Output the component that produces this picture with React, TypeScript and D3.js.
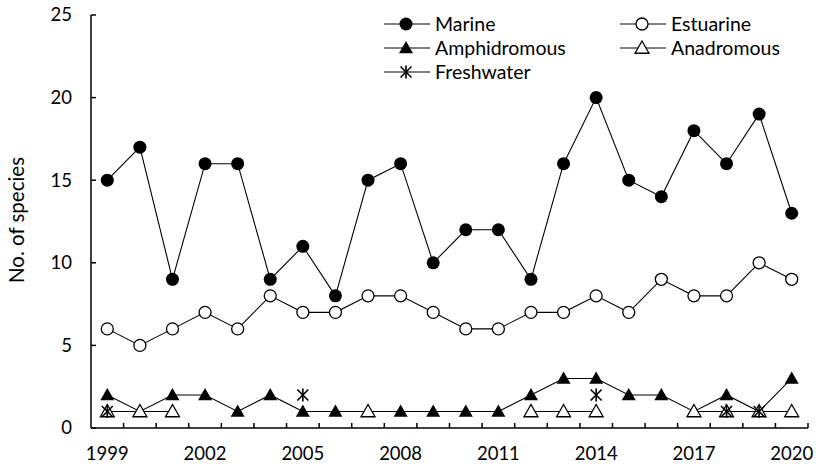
import React from "react";
import * as d3 from "d3";

const years = [1999, 2000, 2001, 2002, 2003, 2004, 2005, 2006, 2007, 2008, 2009, 2010, 2011, 2012, 2013, 2014, 2015, 2016, 2017, 2018, 2019, 2020];
const marine = [15, 17, 9, 16, 16, 9, 11, 8, 15, 16, 10, 12, 12, 9, 16, 20, 15, 14, 18, 16, 19, 13];
const estuarine = [6, 5, 6, 7, 6, 8, 7, 7, 8, 8, 7, 6, 6, 7, 7, 8, 7, 9, 8, 8, 10, 9];
const amphidromous = [2, 1, 2, 2, 1, 2, 1, 1, 1, 1, 1, 1, 1, 2, 3, 3, 2, 2, 1, 2, 1, 3];
const anadromous: (number | null)[] = [1, 1, 1, null, null, null, null, null, 1, null, null, null, null, 1, 1, 1, null, null, 1, 1, 1, 1];
const freshwater: (number | null)[] = [1, null, null, null, null, null, 2, null, null, null, null, null, null, null, null, 2, null, null, null, 1, 1, null];
const tickYears = [1999, 2002, 2005, 2008, 2011, 2014, 2017, 2020];
const yTicks = [0, 5, 10, 15, 20, 25];

type Marker = "circleFilled" | "circleOpen" | "triFilled" | "triOpen" | "star";

const seriesList: { name: string; values: (number | null)[]; marker: Marker }[] = [
  { name: "Marine", values: marine, marker: "circleFilled" },
  { name: "Estuarine", values: estuarine, marker: "circleOpen" },
  { name: "Amphidromous", values: amphidromous, marker: "triFilled" },
  { name: "Anadromous", values: anadromous, marker: "triOpen" },
  { name: "Freshwater", values: freshwater, marker: "star" },
];

const W = 816;
const H = 468;
const margin = { left: 91, right: 8, top: 15, bottom: 40 };
const FONT = "Lato, Carlito, 'Open Sans', sans-serif";
const TICK_FS = 18.5;
const LEGEND_FS = 19.5;
const TITLE_FS = 20.5;

function MarkerShape({ type, x, y }: { type: Marker; x: number; y: number }) {
  const r = 6.5;
  if (type === "circleFilled") return <circle cx={x} cy={y} r={r} fill="#000" />;
  if (type === "circleOpen") return <circle cx={x} cy={y} r={r - 0.5} fill="#fff" stroke="#000" strokeWidth={1.3} />;
  if (type === "triFilled" || type === "triOpen") {
    const s = 7;
    const p = `M${x},${y - s} L${x + s},${y + s * 0.75} L${x - s},${y + s * 0.75} Z`;
    return type === "triFilled" ? (
      <path d={p} fill="#000" />
    ) : (
      <path d={p} fill="#fff" stroke="#000" strokeWidth={1.3} />
    );
  }
  const s = 5.5;
  return (
    <g stroke="#000" strokeWidth={1.6}>
      <line x1={x - s} y1={y - s} x2={x + s} y2={y + s} />
      <line x1={x - s} y1={y + s} x2={x + s} y2={y - s} />
      <line x1={x} y1={y - s - 1} x2={x} y2={y + s + 1} />
    </g>
  );
}

export default function App() {
  const x = d3
    .scaleBand<number>()
    .domain(years)
    .range([margin.left, W - margin.right]);
  const y = d3.scaleLinear().domain([0, 25]).range([H - margin.bottom, margin.top]);
  const cx = (yr: number) => (x(yr) as number) + x.bandwidth() / 2;

  const line = d3
    .line<number | null>()
    .defined((d) => d !== null)
    .x((_, i) => cx(years[i]))
    .y((d) => y(d as number));

  const baseY = y(0);
  const boundaries = years.map((yr) => x(yr) as number).concat([W - margin.right]);

  const legend = [
    { s: seriesList[0], lx: 384, ly: 24 },
    { s: seriesList[2], lx: 384, ly: 48 },
    { s: seriesList[4], lx: 384, ly: 72 },
    { s: seriesList[1], lx: 620, ly: 24 },
    { s: seriesList[3], lx: 620, ly: 48 },
  ];

  return (
    <svg width={W} height={H} style={{ position: "absolute", left: 0, top: 0, background: "#fff" }} fontFamily={FONT}>
      {/* axes */}
      <line x1={margin.left} y1={margin.top} x2={margin.left} y2={baseY} stroke="#000" strokeWidth={1.5} />
      <line x1={margin.left} y1={baseY} x2={W - margin.right} y2={baseY} stroke="#000" strokeWidth={1.5} />
      {yTicks.map((t) => (
        <g key={t}>
          <line x1={margin.left} x2={margin.left + 5} y1={y(t)} y2={y(t)} stroke="#000" strokeWidth={1.5} />
          <text x={margin.left - 19} y={y(t)} dy="0.35em" textAnchor="end" fontSize={TICK_FS}>
            {t}
          </text>
        </g>
      ))}
      {boundaries.slice(1).map((bx, i) => (
        <line key={i} x1={bx} x2={bx} y1={baseY} y2={baseY - 5} stroke="#000" strokeWidth={1.5} />
      ))}
      {tickYears.map((t) => (
        <text key={t} x={cx(t)} y={baseY + 26} dy="0.35em" textAnchor="middle" fontSize={TICK_FS}>
          {t}
        </text>
      ))}
      <text transform={`translate(24,220) rotate(-90)`} textAnchor="middle" fontSize={TITLE_FS}>
        No. of species
      </text>

      {/* series */}
      {seriesList.map((s) => (
        <g key={s.name}>
          <path d={line(s.values) || ""} fill="none" stroke="#000" strokeWidth={1.1} />
          {s.values.map((v, i) =>
            v === null ? null : <MarkerShape key={i} type={s.marker} x={cx(years[i])} y={y(v)} />
          )}
        </g>
      ))}

      {/* legend */}
      {legend.map(({ s, lx, ly }) => (
        <g key={s.name}>
          <line x1={lx} x2={lx + 46} y1={ly} y2={ly} stroke="#000" strokeWidth={1.1} />
          <MarkerShape type={s.marker} x={lx + 22} y={ly} />
          <text x={lx + 51} y={ly} dy="0.35em" fontSize={LEGEND_FS}>
            {s.name}
          </text>
        </g>
      ))}
    </svg>
  );
}
